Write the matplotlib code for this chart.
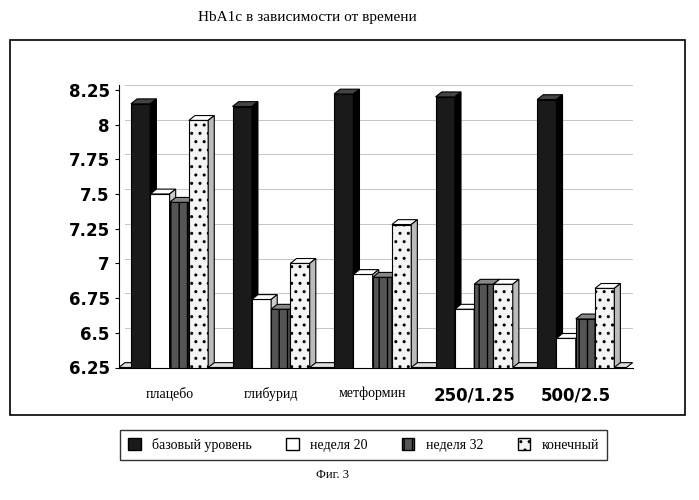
import matplotlib.pyplot as plt
from matplotlib.patches import Polygon, Rectangle
import numpy as np

categories = ["плацебо", "глибурид", "метформин", "250/1.25", "500/2.5"]
series_names = ["базовый уровень", "неделя 20", "неделя 32", "конечный"]
baseline = [8.15, 8.13, 8.22, 8.20, 8.18]
week20 = [7.50, 6.74, 6.92, 6.67, 6.46]
week32 = [7.44, 6.67, 6.90, 6.85, 6.60]
final = [8.03, 7.00, 7.28, 6.85, 6.82]
yticks = [6.25, 6.5, 6.75, 7, 7.25, 7.5, 7.75, 8, 8.25]
ytick_labels = ["6.25", "6.5", "6.75", "7", "7.25", "7.5", "7.75", "8", "8.25"]

series = [baseline, week20, week32, final]
faces = ["#1a1a1a", "white", "#555555", "#f4f4f4"]
tops = ["#444444", "white", "#888888", "white"]
sides = ["#000000", "#cccccc", "#333333", "#bbbbbb"]
hatches = ["", "", "||", ".."]

fig = plt.figure(figsize=(6.99, 5), dpi=100)
fig.patches.append(Rectangle((0.015, 0.17), 0.965, 0.75, transform=fig.transFigure,
                             fill=False, edgecolor="black", lw=1.2))
fig.text(0.44, 0.965, "HbA1c в зависимости от времени", ha="center", va="center",
         family="Liberation Serif", fontsize=11)
fig.text(0.475, 0.05, "Фиг. 3", ha="center", va="center", family="Liberation Serif", fontsize=9)

ax = fig.add_axes([0.17, 0.265, 0.735, 0.565])
base = 6.25
w = 0.19
dx, dy = 0.06, 0.035
x = np.arange(len(categories))
for s, vals in enumerate(series):
    for i, v in enumerate(vals):
        x0 = x[i] - 0.38 + s * w
        ax.add_patch(Rectangle((x0, base), w, v - base, facecolor=faces[s],
                               edgecolor="black", lw=0.8, hatch=hatches[s], zorder=3 + s))
        ax.add_patch(Polygon([(x0, v), (x0 + dx, v + dy), (x0 + w + dx, v + dy), (x0 + w, v)],
                             facecolor=tops[s], edgecolor="black", lw=0.8, zorder=3 + s))
        ax.add_patch(Polygon([(x0 + w, base), (x0 + w + dx, base + dy), (x0 + w + dx, v + dy), (x0 + w, v)],
                             facecolor=sides[s], edgecolor="black", lw=0.8, zorder=3 + s))
# floor
ax.add_patch(Polygon([(-0.5, base), (-0.5 + dx, base + dy), (4.5 + dx, base + dy), (4.5, base)],
                     facecolor="#dddddd", edgecolor="black", lw=0.8, zorder=1))
for t in yticks:
    ax.plot([-0.5 + dx, 4.5 + dx], [t + dy, t + dy], color="#bbbbbb", lw=0.6, zorder=0)
ax.set_xlim(-0.5, 4.5 + dx)
ax.set_ylim(6.25, 8.25 + dy)
ax.set_yticks(yticks)
ax.set_yticklabels(ytick_labels, fontweight="bold", fontsize=12, family="DejaVu Sans")
ax.set_xticks(x)
labels = ax.set_xticklabels(categories)
for i, lab in enumerate(labels):
    if i < 3:
        lab.set_family("Liberation Serif")
        lab.set_fontsize(10)
    else:
        lab.set_family("DejaVu Sans")
        lab.set_fontsize(12)
        lab.set_fontweight("bold")
ax.tick_params(axis="x", length=0, pad=14)
ax.tick_params(axis="y", length=3)
for sp in ["top", "right"]:
    ax.spines[sp].set_visible(False)

handles = [Rectangle((0, 0), 1, 1, facecolor=faces[s], edgecolor="black", hatch=hatches[s])
           for s in range(4)]
fig.legend(handles, series_names, loc="center", bbox_to_anchor=(0.52, 0.11), ncol=4,
           frameon=True, fancybox=False, edgecolor="black", prop={"family": "Liberation Serif", "size": 10},
           handlelength=0.9, handleheight=0.9, columnspacing=2.5, borderpad=0.6)
fig.savefig("out.png", dpi=100)
